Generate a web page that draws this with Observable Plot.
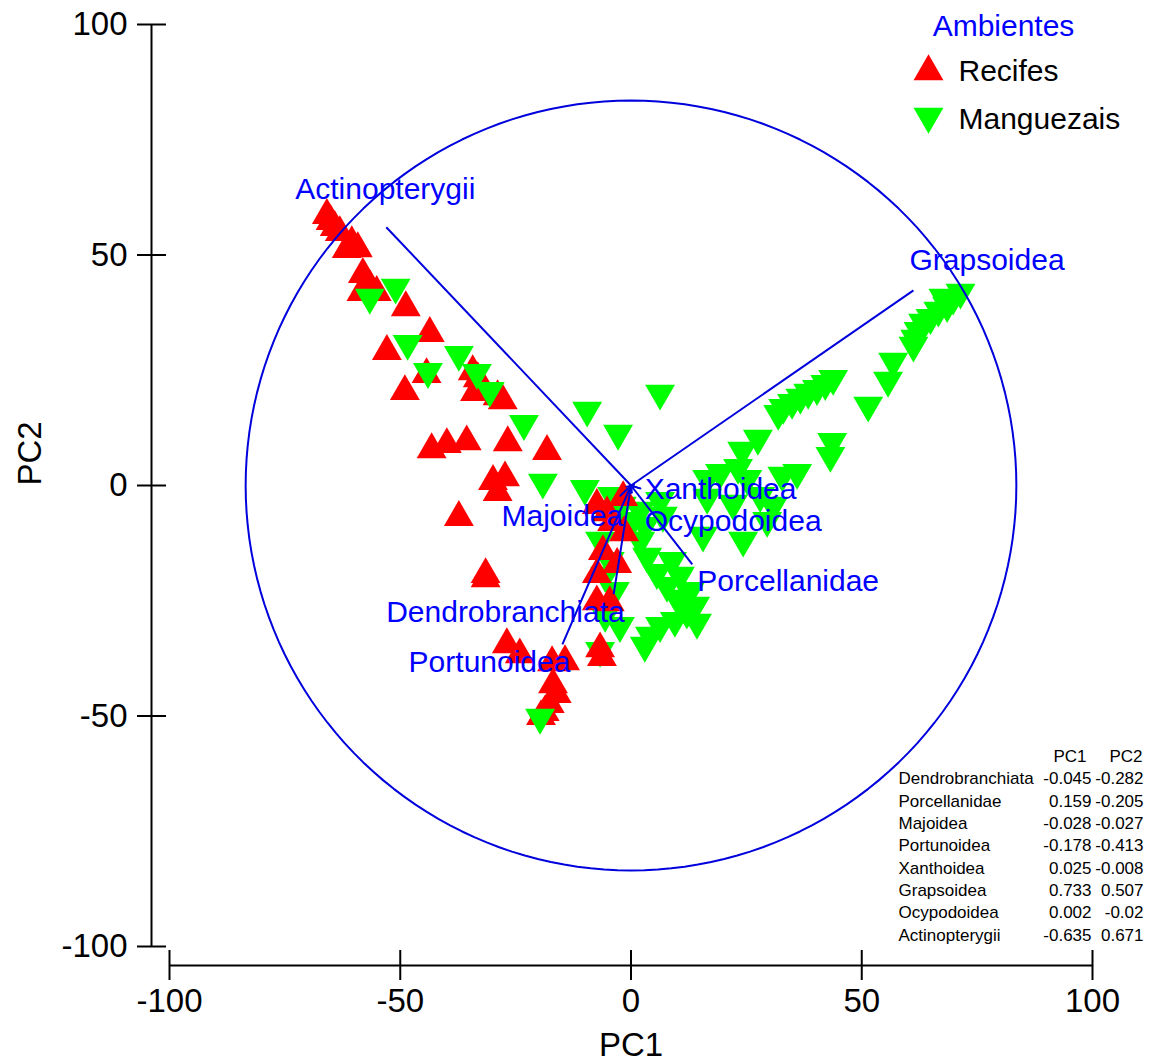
<!DOCTYPE html>
<html><head><meta charset="utf-8">
<script src="https://cdn.jsdelivr.net/npm/d3@7"></script>
<script src="https://cdn.jsdelivr.net/npm/@observablehq/plot@0.6"></script>
<style>body{margin:0;background:#fff}</style>
</head><body><div id="chart"></div>
<script>
// ---- data ----
const groups = ["Recifes", "Manguezais"];
const recifesPC1 = [-65.9,-65.1,-64.2,-63.1,-61.6,-59.2,-60.5,-58.1,-58.4,-55.1,-56.6,-48.8,-43.6,-52.9,-44.3,-49.0,-34.3,-33.2,-28.9,-27.8,-33.8,-43.2,-39.9,-35.6,-26.7,-18.2,-29.9,-27.3,-28.9,-37.3,-31.5,-31.5,-26.9,-24.1,-17.1,-14.3,-16.9,-16.1,-17.6,-18.7,-19.5,-7.4,-5.2,-4.1,-1.5,-6.1,-3.0,-7.4,-7.4,-4.6,-6.3,-6.7,-1.7];
const recifesPC2 = [58.6,57.3,56.0,54.9,51.2,51.4,52.7,45.8,41.9,41.9,43.2,38.6,33.0,29.1,24.1,20.4,24.7,23.2,19.3,18.4,20.2,7.8,8.9,9.5,9.3,7.4,0.9,1.7,-1.5,-6.9,-19.3,-20.2,-34.5,-36.7,-38.4,-38.2,-43.2,-45.3,-47.5,-49.2,-50.1,-4.3,-5.9,-8.0,-10.2,-14.3,-17.1,-19.3,-25.2,-25.4,-37.3,-35.4,-2.6];
const manguePC1 = [-56.6,-51.0,-48.4,-44.0,-37.3,-33.4,-30.6,-23.2,-19.1,-9.5,-2.8,6.3,-10.0,
  71.4,69.8,68.5,66.6,64.9,63.3,62.3,61.6,61.2,67.7,56.8,55.7,51.4,43.8,42.1,40.3,38.4,36.7,34.9,33.0,31.9,43.6,43.2,27.5,24.1,23.2,19.3,16.5,32.8,36.0,25.2,
  6.3,15.6,24.3,29.5,28.0,30.8,0.4,2.0,3.5,5.6,7.8,10.0,12.1,14.3,-4.1,-2.0,2.0,6.9,3.0,8.9,10.6,12.8,13.9,9.5,6.3,4.1,3.0,-6.7,-4.6,-5.6,-3.5,-5.6,-2.4,-6.7,-19.7,16.5,22.1];
const manguePC2 = [40.8,43.0,30.8,24.7,28.4,24.5,20.6,13.4,0.7,16.3,11.3,20.0,-0.7,
  41.9,40.6,39.0,38.0,36.4,35.4,33.6,31.9,30.4,40.8,26.9,22.8,17.4,23.2,22.1,21.0,20.2,19.1,18.0,16.9,15.6,9.5,6.5,10.2,7.6,3.9,2.8,1.5,2.2,2.8,1.5,
  -3.3,-10.8,-11.9,-7.6,-2.2,-4.3,-7.6,-11.9,-15.4,-18.9,-21.7,-24.5,-27.5,-29.7,-2.2,-4.3,-5.4,-6.5,-8.7,-16.3,-19.5,-22.8,-26.0,-29.3,-30.4,-32.5,-34.7,-11.9,-16.3,-19.5,-22.8,-28.2,-30.4,-35.8,-50.3,-2.6,-3.9];
const vectorNames = ["Dendrobranchiata","Porcellanidae","Majoidea","Portunoidea","Xanthoidea","Grapsoidea","Ocypodoidea","Actinopterygii"];
const loadPC1 = [-0.045,0.159,-0.028,-0.178,0.025,0.733,0.002,-0.635];
const loadPC2 = [-0.282,-0.205,-0.027,-0.413,-0.008,0.507,-0.02,0.671];
const xTicks = [-100,-50,0,50,100];
const yTicks = [-100,-50,0,50,100];
const circleRadius = 83.5;

// ---- styles ----
const RED = "#ff0000", GREEN = "#00ff00", BLUE_TEXT = "#0000ff", BLUE_LINE = "#0000dd";
const FONT = "'Liberation Sans', Arial, Helvetica, sans-serif";
const labelStyle = {
  Dendrobranchiata: {textAnchor: "end", dx: 11, dy: 18},
  Porcellanidae: {textAnchor: "start", dx: 5, dy: 17},
  Majoidea: {textAnchor: "end", dx: 3, dy: 20},
  Portunoidea: {textAnchor: "end", dx: 8, dy: 18},
  Xanthoidea: {textAnchor: "start", dx: 4, dy: 1},
  Grapsoidea: {textAnchor: "start", dx: -4, dy: -30},
  Ocypodoidea: {textAnchor: "start", dx: 13, dy: 28},
  Actinopterygii: {textAnchor: "middle", dx: -1, dy: -38}
};

const sqrt3 = Math.sqrt(3);
const triUp = {draw(ctx, size) { const y = -Math.sqrt(size / (sqrt3 * 3)); ctx.moveTo(0, y * 2); ctx.lineTo(-sqrt3 * y, -y); ctx.lineTo(sqrt3 * y, -y); ctx.closePath(); }};
const triDown = {draw(ctx, size) { const y = Math.sqrt(size / (sqrt3 * 3)); ctx.moveTo(0, y * 2); ctx.lineTo(-sqrt3 * y, -y); ctx.lineTo(sqrt3 * y, -y); ctx.closePath(); }};
const R_DOT = 11.1;

const recifes = recifesPC1.map((x, i) => ({x, y: recifesPC2[i]}));
const mangue = manguePC1.map((x, i) => ({x, y: manguePC2[i]}));
const vectors = vectorNames.map((name, i) => ({name, pc1: loadPC1[i], pc2: loadPC2[i]}));
const tiny = vectors.filter(d => Math.hypot(d.pc1, d.pc2) < 0.05);
const circle = d3.range(0, 361, 2).map(a => ({x: circleRadius * Math.cos(a * Math.PI / 180), y: circleRadius * Math.sin(a * Math.PI / 180)}));

const LH = 22.3, TFS = 17;
const tableDy = -6;

const marks = [
  // axes
  Plot.axisY({ticks: yTicks, anchor: "left", tickSize: 29, dx: -3, tickPadding: 10, fontSize: 33, strokeWidth: 2, tickFormat: d => String(d), label: null}),
  Plot.ruleX([-100], {y1: -100, y2: 100, dx: -18, strokeWidth: 2}),
  Plot.axisX({ticks: xTicks, anchor: "bottom", tickSize: 30, dy: 4, tickPadding: 8, fontSize: 33, strokeWidth: 2, tickFormat: d => String(d), label: null}),
  Plot.ruleY([-100], {x1: -100, x2: 100, dy: 19, strokeWidth: 2}),
  Plot.text(["PC1"], {frameAnchor: "bottom", dy: 109, lineAnchor: "bottom", fontSize: 33}),
  Plot.text(["PC2"], {frameAnchor: "left", dx: -129, rotate: -90, lineAnchor: "bottom", fontSize: 33}),
  // points: central greens below the reds, left-side greens above them (as in the original)
  Plot.dot(mangue.filter(d => d.x >= -15), {x: "x", y: "y", symbol: triDown, r: R_DOT, fill: GREEN, stroke: null}),
  Plot.dot(recifes, {x: "x", y: "y", symbol: triUp, r: R_DOT, fill: RED, stroke: null}),
  Plot.dot(mangue.filter(d => d.x < -15), {x: "x", y: "y", symbol: triDown, r: R_DOT, fill: GREEN, stroke: null}),
  // circle and vectors
  Plot.line(circle, {x: "x", y: "y", stroke: BLUE_LINE, strokeWidth: 2}),
  Plot.link(vectors, {x1: 0, y1: 0, x2: d => d.pc1 * circleRadius, y2: d => d.pc2 * circleRadius, stroke: BLUE_LINE, strokeWidth: 2}),
  Plot.arrow(tiny, {x1: d => d.pc1 * circleRadius, y1: d => d.pc2 * circleRadius, x2: 0, y2: 0, stroke: BLUE_LINE, strokeWidth: 1.5, headLength: 12}),
  ...vectors.map(v => Plot.text([v], {x: d => d.pc1 * circleRadius, y: d => d.pc2 * circleRadius, text: "name", fill: BLUE_TEXT, fontSize: 30, lineAnchor: "middle", ...labelStyle[v.name]})),
  // legend
  Plot.text(["Ambientes"], {frameAnchor: "top-right", dx: -89, dy: 11, lineAnchor: "bottom", textAnchor: "middle", fill: BLUE_TEXT, fontSize: 30}),
  Plot.dot([groups[0]], {frameAnchor: "top-right", dx: -164, dy: 47, symbol: triUp, r: R_DOT, fill: RED, stroke: null}),
  Plot.text([groups[0]], {frameAnchor: "top-right", dx: -134, dy: 56, textAnchor: "start", lineAnchor: "bottom", fontSize: 30}),
  Plot.dot([groups[1]], {frameAnchor: "top-right", dx: -164, dy: 92, symbol: triDown, r: R_DOT, fill: GREEN, stroke: null}),
  Plot.text([groups[1]], {frameAnchor: "top-right", dx: -134, dy: 104, textAnchor: "start", lineAnchor: "bottom", fontSize: 30}),
  // loadings table
  Plot.text(["PC1"], {frameAnchor: "bottom-right", dx: -6, dy: tableDy - 8 * LH, textAnchor: "end", lineAnchor: "bottom", fontSize: TFS}),
  Plot.text(["PC2"], {frameAnchor: "bottom-right", dx: 50, dy: tableDy - 8 * LH, textAnchor: "end", lineAnchor: "bottom", fontSize: TFS}),
  Plot.text([vectorNames.join("\n")], {frameAnchor: "bottom-right", dx: -194, dy: tableDy, textAnchor: "start", lineAnchor: "bottom", lineHeight: LH / TFS, fontSize: TFS}),
  Plot.text([loadPC1.map(String).join("\n")], {frameAnchor: "bottom-right", dx: -1, dy: tableDy, textAnchor: "end", lineAnchor: "bottom", lineHeight: LH / TFS, fontSize: TFS}),
  Plot.text([loadPC2.map(String).join("\n")], {frameAnchor: "bottom-right", dx: 51, dy: tableDy, textAnchor: "end", lineAnchor: "bottom", lineHeight: LH / TFS, fontSize: TFS})
];

const chart = Plot.plot({
  width: 1153, height: 1061,
  marginLeft: 169, marginRight: 61, marginTop: 24, marginBottom: 115,
  x: {domain: [-100, 100]},
  y: {domain: [-100, 100]},
  style: {fontFamily: FONT, background: "#fff", color: "#000", overflow: "visible"},
  marks
});
document.getElementById("chart").append(chart);
</script>
</body></html>
